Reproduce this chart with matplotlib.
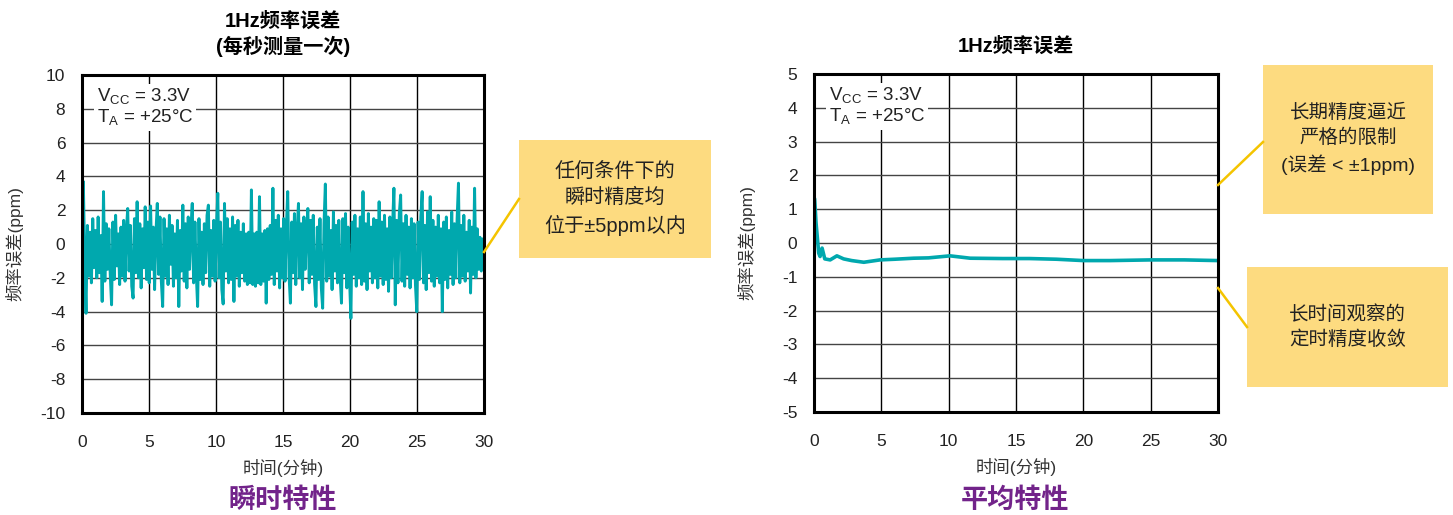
import numpy as np
import matplotlib.pyplot as plt
from matplotlib.patches import Rectangle
from matplotlib.lines import Line2D

plt.rcParams['font.family'] = ['Liberation Sans', 'Noto Sans CJK SC', 'DejaVu Sans']
plt.rcParams['axes.unicode_minus'] = False

# instantaneous 1Hz error, 10 samples per minute (ppm)
inst_err = [
    0.3, 3.7, -1.0, -4.1, 1.1, -1.9, 0.7, -2.3, 1.5, -1.4,
    0.8, -2.0, 1.6, -1.7, 0.5, -3.4, 3.1, -2.2, 1.2, -1.5,
    0.9, -1.8, -3.6, 1.3, -2.1, 1.7, -1.3, 0.6, -2.4, 1.0,
    -1.9, 1.4, -2.2, 0.8, 2.1, -1.6, 1.1, -2.5, -3.2, 1.5,
    -1.7, 2.5, -2.0, 1.2, -2.6, 0.9, -1.4, 2.2, -2.1, 1.3,
    -2.3, 2.25, -1.5, 1.0, -2.7, 0.7, 2.4, -1.8, 1.6, -2.2,
    -3.7, 1.5, -1.9, 0.9, -2.4, 1.7, -1.2, 1.1, -2.5, 0.6,
    -2.0, 1.4, -3.7, 0.8, -1.6, 2.3, -2.2, 1.2, -2.6, 1.6,
    -1.5, 0.9, 2.4, -2.3, 1.3, -1.8, -3.7, 1.5, -2.1, 0.7,
    -2.4, 1.2, -1.7, 1.7, 2.3, -2.5, 0.8, -1.9, 1.4, -2.2,
    1.0, 3.0, -2.0, 1.3, -2.7, -3.55, 2.4, -1.6, 1.5, -2.3,
    0.9, -2.1, 1.6, -3.4, 1.1, -1.9, 1.4, -2.5, 0.7, -1.7,
    1.2, -2.2, 0.6, -2.4, 0.7, -2.3, 3.2, -2.4, 0.6, -2.5,
    0.7, -2.3, 2.8, -2.4, 0.6, -2.2, 0.8, -3.5, 0.9, -2.1,
    1.1, -1.8, 3.3, -2.4, 1.4, -1.6, 1.7, -2.6, 0.9, -2.0,
    1.5, -2.2, 1.0, 3.1, -1.9, -3.5, 1.3, -1.7, 1.8, -2.4,
    0.8, 2.4, -2.0, 1.2, -2.7, 1.6, -1.5, 0.9, 2.1, -2.3,
    1.4, -1.8, 1.7, -2.4, -3.7, 1.0, -2.1, 1.5, -2.6, -3.8,
    1.2, 3.55, -2.2, 1.6, -1.9, 0.8, -2.7, 1.9, -1.6, 1.1,
    -2.3, 1.4, -2.0, -3.5, 1.5, -1.7, 1.8, -2.6, 1.0, -2.1,
    -4.4, 1.3, -1.8, 1.7, -2.5, 0.9, -2.0, 1.6, -2.4, 3.1,
    -2.2, 1.2, -2.7, 1.8, -1.6, 1.0, -2.3, 1.5, -2.0, 1.4,
    -2.6, 2.5, -1.9, 1.3, -2.4, 1.7, -2.1, 0.9, -2.8, 1.6,
    -2.0, 1.1, 3.3, -3.6, 1.4, -2.3, 1.8, 2.9, -2.2, 1.2,
    -2.5, 1.7, -1.8, 1.0, -2.6, 1.5, -2.0, 1.2, -2.4, -4.0,
    1.3, -2.1, 1.6, 3.1, -2.3, 1.1, -2.7, 1.9, -1.7, 2.8,
    -2.2, 1.4, -2.5, 1.0, -1.9, 1.7, -2.3, 0.9, -4.0, 1.3,
    -2.1, 1.6, -2.6, 0.8, -1.8, 1.9, -2.4, 1.2, -2.0, 1.5,
    3.6, -2.3, 1.1, -1.9, 1.7, -2.2, 0.7, -1.6, 1.4, -2.9,
    1.0, -1.8, 3.3, -2.0, 0.9, -1.5, 0.4, -1.6, 0.3, 0.2,
]
inst_t = np.linspace(0, 30, len(inst_err))

# running average of the error
avg_t = [0, 0.05, 0.15, 0.25, 0.35, 0.45, 0.6, 0.8, 1.2, 1.7, 2.2, 2.8, 3.7,
         4.9, 6.0, 7.4, 8.5, 10.1, 11.6, 14.0, 16.0, 18.0, 20.0, 22.0, 25.0,
         27.5, 30.0]
avg_err = [1.35, 1.3, 0.6, 0.15, -0.3, -0.4, -0.15, -0.47, -0.5, -0.38, -0.47,
           -0.52, -0.57, -0.5, -0.48, -0.45, -0.44, -0.38, -0.45, -0.46, -0.46,
           -0.48, -0.52, -0.52, -0.5, -0.5, -0.52]

teal = '#00A8AE'
purple = '#72238A'
note_bg = '#FDDB80'
note_line = '#F4C400'

fig = plt.figure(figsize=(14.53, 5.15), dpi=100)
W, H = 1453, 515


def px_axes(x0, y0, x1, y1):
    return fig.add_axes([x0 / W, 1 - y1 / H, (x1 - x0) / W, (y1 - y0) / H])


def style(ax, ylim, ystep):
    ax.set_xlim(0, 30)
    ax.set_ylim(*ylim)
    ax.set_xticks(range(0, 31, 5))
    ax.set_yticks(np.arange(ylim[0], ylim[1] + 0.1, ystep))
    ax.tick_params(length=0, labelsize=12.5, colors='#222222')
    ax.tick_params(axis='x', pad=16)
    ax.tick_params(axis='y', pad=12)
    for x in range(5, 30, 5):
        ax.axvline(x, color='black', lw=1.0, zorder=1)
    for y in np.arange(ylim[0] + ystep, ylim[1], ystep):
        ax.axhline(y, color='#444444', lw=1.0, zorder=1)
    for s in ax.spines.values():
        s.set_linewidth(2.2)
        s.set_zorder(5)
    ax.set_xlabel('时间(分钟)', fontsize=12.5, color='#333333', labelpad=6)
    ax.set_ylabel('频率误差(ppm)', fontsize=12.5, color='#333333')
    ax.yaxis.set_label_coords(-0.145, 0.5)
    ax.text(1.1, ylim[1] - (ylim[1] - ylim[0]) * 0.035,
            'V$_\\mathregular{CC}$ = 3.3V\nT$_\\mathregular{A}$ = +25°C',
            fontsize=13.5, va='top', ha='left', linespacing=1.05, color='#222222',
            zorder=4, bbox=dict(facecolor='white', edgecolor='none', pad=2))


ax1 = px_axes(82, 75, 484, 413)
style(ax1, (-10, 10), 2)
ax1.plot(inst_t, inst_err, color=teal, lw=2.1, zorder=3)
ax1.set_title('1Hz频率误差\n(每秒测量一次)', fontsize=14.5, fontweight='bold', pad=16,
              linespacing=1.25)

ax2 = px_axes(814, 74, 1218, 412)
style(ax2, (-5, 5), 1)
ax2.plot(avg_t, avg_err, color=teal, lw=2.6, zorder=3)
ax2.set_title('1Hz频率误差', fontsize=14.5, fontweight='bold', pad=16)

fig.text(283 / W, 1 - 501 / H, '瞬时特性', fontsize=19.5, fontweight='bold',
         color=purple, ha='center', va='center')
fig.text(1015 / W, 1 - 501 / H, '平均特性', fontsize=19.5, fontweight='bold',
         color=purple, ha='center', va='center')


def note(x0, y0, x1, y1, text, fs):
    fig.patches.append(Rectangle((x0 / W, 1 - y1 / H), (x1 - x0) / W, (y1 - y0) / H,
                                 transform=fig.transFigure, facecolor=note_bg,
                                 edgecolor='none'))
    fig.text((x0 + x1) / 2 / W, 1 - (y0 + y1) / 2 / H, text, fontsize=fs,
             ha='center', va='center', linespacing=1.45, color='#222222')


def leader(xa, ya, xb, yb):
    fig.lines.append(Line2D([xa / W, xb / W], [1 - ya / H, 1 - yb / H],
                            transform=fig.transFigure, color=note_line, lw=1.8))


leader(484, 252, 519, 199)
note(519, 140, 711, 258, '任何条件下的\n瞬时精度均\n位于±5ppm以内', 14.5)

leader(1218, 185, 1263, 142)
note(1263, 65, 1433, 214, '长期精度逼近\n严格的限制\n(误差 < ±1ppm)', 14)

leader(1218, 288, 1247, 327)
note(1247, 267, 1448, 387, '长时间观察的\n定时精度收敛', 14)

fig.savefig('out.png', dpi=100)
